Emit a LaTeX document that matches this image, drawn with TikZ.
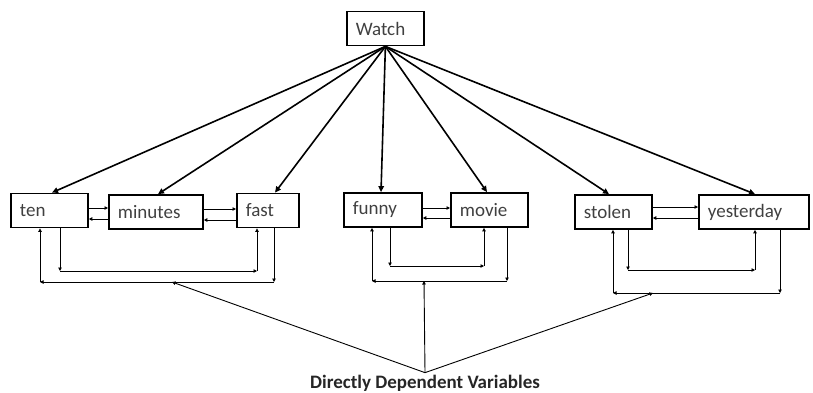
\documentclass[tikz,border=0pt]{standalone}
\usepackage{fontspec}
\setmainfont{Carlito}
\usetikzlibrary{arrows.meta}

\begin{document}
\begin{tikzpicture}[x=1pt, y=-1pt,
  word/.style = {draw, line width=1.8pt, anchor=west, minimum height=34,
    inner xsep=9pt, text width=#1, align=left,
    font=\fontsize{19}{22}\selectfont, text=black!75},
  feed/.style = {line width=1.6pt, -{Triangle[length=6pt,width=5.5pt]}},
  dep/.style = {line width=0.9pt, -{Triangle[length=3.5pt,width=3.5pt]}}]
  \useasboundingbox (0,0) rectangle (813,392);

  \node[word=59pt] (watch) at (346,28.5) {Watch};

  \node[word=59pt] (ten) at (10,210.5) {ten};
  \node[word=76pt] (minutes) at (108,212) {minutes};
  \node[word=44pt] (fast) at (236,210.5) {fast};
  \node[word=60pt] (funny) at (343,210) {funny};
  \node[word=59pt] (movie) at (450,210) {movie};
  \node[word=59pt] (stolen) at (574,212) {stolen};
  \node[word=92pt] (yesterday) at (698,212) {yesterday};

  \node[font=\fontsize{19}{22}\selectfont\bfseries, text=black!85, inner sep=1pt]
    (ddv) at (425,383) {Directly Dependent Variables};

  % from the sentence word to every other word
  \foreach \n/\x in {ten/52, minutes/158, fast/275, funny/381, movie/487,
    stolen/609, yesterday/755}
    \draw[feed] (watch.south) -- (\n.north -| \x,0);

  % neighbours point at each other
  \foreach \a/\b/\ya/\yb in {ten/minutes/208/219, minutes/fast/209/220,
    funny/movie/208/218, stolen/yesterday/207/218} {
    \draw[dep] (\a.east |- 0,\ya) -- (\b.west |- 0,\ya);
    \draw[dep] (\b.west |- 0,\yb) -- (\a.east |- 0,\yb);
  }

  % loops underneath
  \foreach \a/\b/\xa/\xb/\y in {ten/fast/60/257/271, fast/ten/274/40/282,
    funny/movie/390/484/266, movie/funny/507/372/281,
    stolen/yesterday/628/755/270, yesterday/stolen/780/613/293} {
    \coordinate (c1) at (\xa,\y);
    \coordinate (c2) at (\xb,\y);
    \draw[dep] (\a.south -| c1) -- (c1);
    \draw[dep] (c1) -- (c2);
    \draw[dep] (c2) -- (\b.south -| c2);
  }

  \coordinate (g1) at (172,282);
  \coordinate (g2) at (424,281);
  \coordinate (g3) at (653,293);
  \foreach \g in {g1,g2,g3}
    \draw[dep] ([yshift=1pt]ddv.north) -- (\g);
\end{tikzpicture}
\end{document}
